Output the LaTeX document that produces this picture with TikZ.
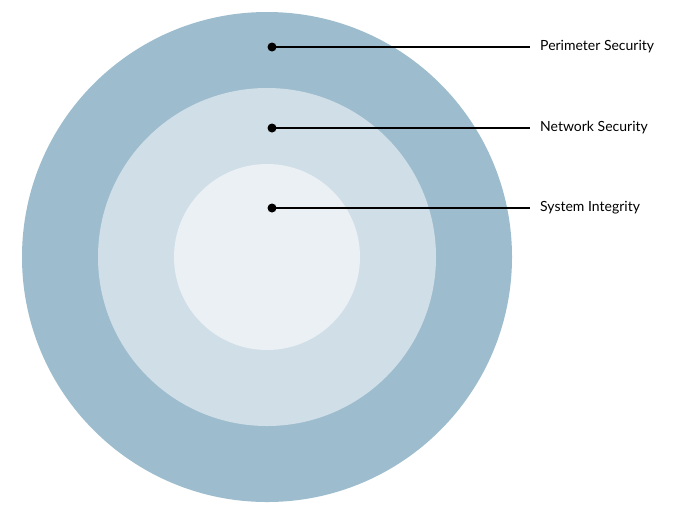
\documentclass[tikz,border=0pt]{standalone}
\usepackage{fontspec}
\setmainfont{Lato}
\definecolor{outerc}{HTML}{9DBDCE}
\definecolor{midc}{HTML}{D0DEE7}
\definecolor{innc}{HTML}{EAF0F4}
\begin{document}
\begin{tikzpicture}[x=1pt,y=-1pt,
  lbl/.style={anchor=west,font=\fontsize{14}{16}\selectfont,inner sep=0pt},
  dotc/.style={circle,fill=black,inner sep=0pt,minimum size=9pt}]
\useasboundingbox (0,0) rectangle (700,515);
\fill[white] (0,0) rectangle (700,515);
\fill[outerc] (267,257) circle[radius=245];
\fill[midc] (267,257) circle[radius=169];
\fill[innc] (267,257) circle[radius=93];
\node[dotc] (d1) at (272,47) {};
\node[dotc] (d2) at (272,128) {};
\node[dotc] (d3) at (272,208) {};
\node[lbl] (l1) at (540,47) {Perimeter Security};
\node[lbl] (l2) at (540,128) {Network Security};
\node[lbl] (l3) at (540,208) {System Integrity};
\draw[line width=1.5pt] (d1.center) -- ([xshift=-10pt]l1.west);
\draw[line width=1.5pt] (d2.center) -- ([xshift=-10pt]l2.west);
\draw[line width=1.5pt] (d3.center) -- ([xshift=-10pt]l3.west);
\end{tikzpicture}
\end{document}
